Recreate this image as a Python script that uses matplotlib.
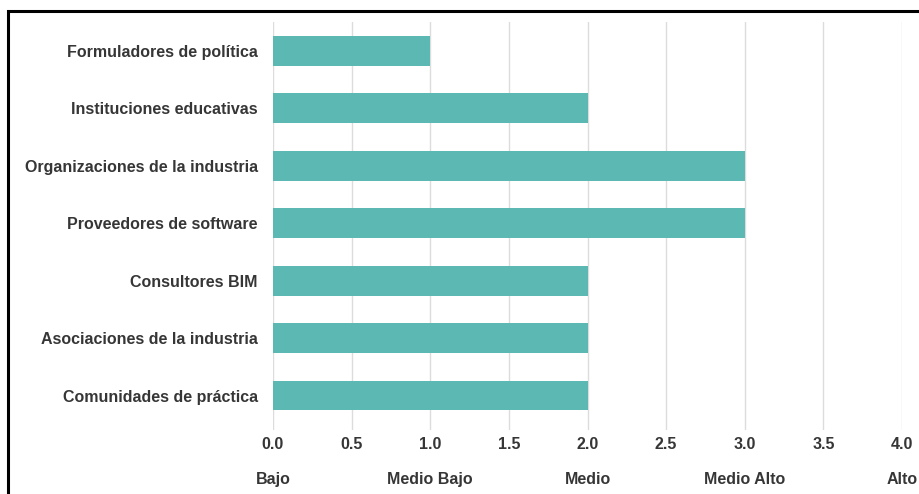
import matplotlib.pyplot as plt
from matplotlib.patches import Rectangle

categorias = ['Formuladores de política', 'Instituciones educativas',
              'Organizaciones de la industria', 'Proveedores de software',
              'Consultores BIM', 'Asociaciones de la industria',
              'Comunidades de práctica']
valores = [1, 2, 3, 3, 2, 2, 2]
ticks = [0.0, 0.5, 1.0, 1.5, 2.0, 2.5, 3.0, 3.5, 4.0]
niveles_pos = [0, 1, 2, 3, 4]
niveles = ['Bajo', 'Medio Bajo', 'Medio', 'Medio Alto', 'Alto']

plt.rcParams['font.family'] = ['Liberation Sans', 'DejaVu Sans']
txt = '#363636'
fs = 11.5

fig = plt.figure(figsize=(9.2, 4.94), dpi=100)
ax = fig.add_axes([273 / 920, 1 - 430 / 494, (902 - 273) / 920, (430 - 22) / 494])

ypos = list(range(len(categorias)))
ax.barh(ypos, valores, height=0.52, color='#5cb8b2', zorder=3)

ax.set_xlim(0, 4)
ax.set_ylim(6.6, -0.5)
ax.set_xticks(ticks)
ax.set_xticklabels(['%.1f' % t for t in ticks])
ax.set_yticks(ypos)
ax.set_yticklabels(categorias)
ax.tick_params(axis='both', length=0, labelsize=fs, labelcolor=txt)
ax.tick_params(axis='y', pad=11)
ax.tick_params(axis='x', pad=5)
for lab in ax.get_xticklabels() + ax.get_yticklabels():
    lab.set_fontweight('bold')
ax.grid(axis='x', color='#dcdcdc', linewidth=1, zorder=0)
for s in ax.spines.values():
    s.set_visible(False)

sec = ax.secondary_xaxis(-0.085)
sec.set_xticks(niveles_pos)
sec.set_xticklabels(niveles)
sec.tick_params(length=0, labelsize=fs, labelcolor=txt, pad=5)
for lab in sec.get_xticklabels():
    lab.set_fontweight('bold')
sec.spines['bottom'].set_visible(False)

# marco negro
fig.patches.append(Rectangle((8 / 920, -0.1), 1.2, 1 - 11.5 / 494 + 0.1,
                             transform=fig.transFigure, fill=False,
                             edgecolor='black', linewidth=2.2, zorder=10))

fig.savefig('out.png', dpi=100)
